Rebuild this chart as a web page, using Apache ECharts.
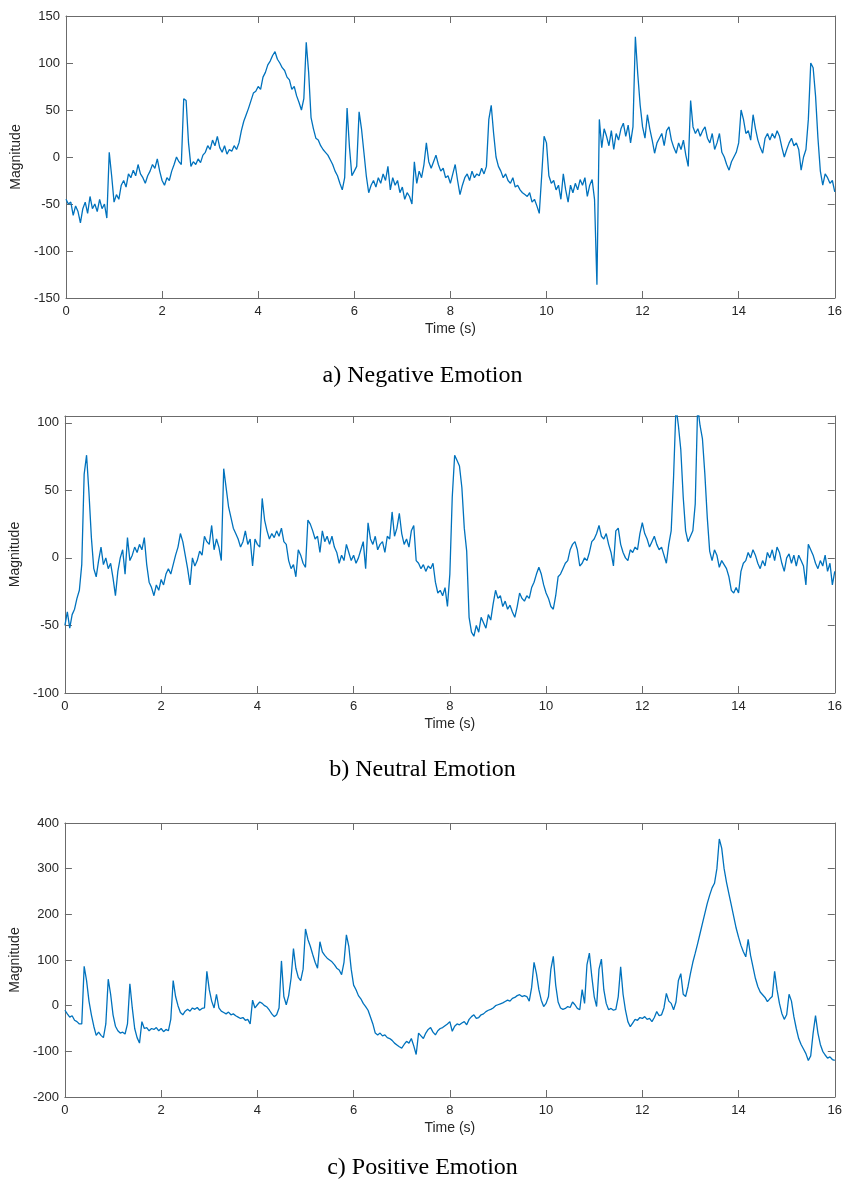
<!DOCTYPE html>
<html><head><meta charset="utf-8">
<script src="https://cdn.jsdelivr.net/npm/echarts@6/dist/echarts.min.js"></script>
<style>html,body{margin:0;padding:0;background:#fff}#c{width:845px;height:1189px}</style>
</head><body><div id="c"></div>
<script>
// Sampling step of the signals (seconds)
const STEP = 0.05;

// a) Negative emotion, t = 0 .. 16 s
const negative = [
-45,-50,-48,-62,-52,-58,-70,-55,-48,-60,-42,-55,-50,-58,-45,-55,-50,-65,5,-20,
-48,-40,-45,-30,-25,-32,-18,-22,-14,-20,-8,-18,-22,-28,-20,-15,-8,-12,-2,-15,
-25,-30,-22,-25,-15,-8,0,-5,-8,62,60,15,-10,-5,-8,-2,-6,2,5,12,
8,18,12,22,10,5,12,3,8,6,12,8,15,28,38,45,52,60,68,70,
75,72,85,90,98,102,108,112,104,100,95,92,85,82,72,75,65,58,50,62,
122,90,42,30,20,18,12,8,5,2,-3,-8,-15,-20,-28,-35,-22,52,10,-20,
-15,-10,48,30,5,-20,-38,-30,-25,-32,-22,-28,-18,-25,-10,-35,-22,-30,-25,-38,
-32,-45,-38,-42,-50,-5,-28,-15,-22,-8,15,-5,-12,-5,2,-8,-15,-12,-22,-20,
-28,-18,-8,-25,-40,-30,-22,-18,-25,-15,-22,-18,-20,-12,-18,-10,40,55,25,0,
-10,-15,-22,-18,-25,-28,-22,-32,-30,-35,-38,-40,-42,-38,-48,-45,-52,-60,-20,22,
15,-20,-28,-25,-35,-30,-45,-18,-35,-48,-30,-38,-28,-35,-24,-30,-22,-42,-30,-24,
-45,-136,40,10,30,22,12,28,8,25,18,30,36,22,34,15,32,128,88,55,
32,20,45,30,18,4,15,20,25,12,28,32,18,10,4,15,8,18,2,-10,
60,32,25,30,22,28,32,20,15,25,8,15,25,5,0,-8,-14,-5,0,5,
15,50,40,25,28,18,45,30,18,10,4,20,25,18,25,20,28,22,10,0,
8,15,20,12,15,8,-14,0,8,40,100,95,65,20,-15,-30,-18,-22,-28,-25,
-37
];

// b) Neutral emotion
const neutral = [
-50,-40,-52,-42,-38,-30,-24,-5,62,76,48,15,-8,-14,-2,8,-5,0,-8,-4,
-15,-28,-10,0,6,-12,15,-2,2,8,4,10,6,15,-5,-18,-22,-28,-20,-24,
-16,-20,-12,-8,-12,-5,2,8,18,12,2,-8,-20,0,-6,-2,5,2,16,12,
10,24,6,14,8,-2,66,52,38,30,22,18,14,8,12,20,10,14,-6,14,
10,8,44,28,20,14,18,15,20,16,22,12,10,-2,-8,-5,-14,6,2,-4,
-7,28,25,20,14,16,4,20,12,16,10,16,8,4,-4,2,-2,10,4,-2,
2,-4,0,6,12,-8,26,14,10,16,6,10,12,4,16,14,34,16,22,33,
18,10,14,8,20,24,-2,-4,-8,-5,-10,-6,-8,-4,-18,-26,-24,-28,-22,-36,
-12,45,76,72,68,52,22,5,-44,-55,-58,-50,-55,-44,-48,-52,-42,-46,-34,-24,
-30,-28,-36,-32,-38,-35,-40,-44,-36,-26,-30,-32,-28,-30,-22,-18,-12,-7,-12,-20,
-26,-30,-36,-38,-28,-14,-12,-8,-4,-2,6,10,12,6,-6,-4,0,-2,4,12,
14,18,24,16,14,18,10,4,-6,20,22,10,4,0,-2,6,4,8,6,18,
26,18,14,8,12,16,10,6,8,2,-4,10,20,60,112,98,80,45,20,12,
16,20,40,112,98,88,62,30,5,-2,6,2,-7,-2,-5,-8,-14,-24,-26,-22,
-26,-10,-4,-2,4,0,6,2,-4,-8,-2,-6,4,0,6,-2,8,4,-4,-10,
0,3,-4,2,-6,2,-2,-6,-20,10,6,2,-4,-8,-2,-6,2,-10,-4,-20,
-10
];

// c) Positive emotion
const positive = [
-10,-18,-25,-22,-32,-35,-40,-40,86,55,10,-20,-45,-65,-58,-65,-70,-40,58,25,
-20,-45,-55,-60,-58,-62,-40,48,-5,-50,-70,-82,-35,-50,-48,-55,-50,-52,-48,-55,
-50,-57,-52,-55,-30,55,20,0,-15,-20,-12,-8,-12,-5,-8,-4,-10,-6,-5,75,
35,10,-5,25,-5,-12,-15,-18,-14,-20,-18,-22,-25,-28,-26,-32,-30,-40,12,-5,
2,8,5,0,-3,-10,-18,-24,-20,-5,98,20,2,22,60,125,82,62,55,80,
168,145,130,112,95,82,140,118,110,104,100,96,90,82,78,68,95,155,130,80,
45,35,22,15,5,-2,-10,-25,-40,-60,-64,-60,-66,-64,-70,-72,-76,-82,-86,-90,
-93,-85,-78,-82,-72,-88,-107,-60,-66,-72,-60,-52,-48,-58,-64,-55,-50,-48,-44,-40,
-35,-56,-45,-40,-42,-38,-35,-42,-30,-24,-20,-28,-26,-20,-18,-13,-10,-8,-5,0,
2,4,6,9,12,10,16,18,22,24,20,22,20,10,40,95,70,35,12,-2,
5,20,80,108,45,8,-5,-8,-6,-2,-4,8,2,-6,-9,35,5,90,115,64,
20,-2,80,102,35,5,-9,-6,-10,-8,20,85,25,-10,-35,-46,-38,-30,-32,-26,
-28,-24,-30,-28,-35,-26,-13,-22,-20,-5,27,10,5,-9,8,55,70,25,20,42,
70,95,115,136,158,180,202,224,242,258,268,300,365,345,300,270,245,220,195,170,
150,132,118,107,145,110,85,60,42,30,24,18,9,15,20,75,35,5,-17,-30,
-20,25,10,-24,-50,-72,-85,-95,-105,-120,-110,-60,-22,-60,-85,-100,-108,-115,-112,-118,
-120
];

const captions = ['a) Negative Emotion', 'b) Neutral Emotion', 'c) Positive Emotion'];
const xName = 'Time (s)';
const yName = 'Magnitude';

const panels = [
  {data: negative, left: 66, top: 16,  width: 772, height: 282, ymin: -150, ymax: 150, yint: 50,  capY: 376},
  {data: neutral,  left: 63, top: 416, width: 772, height: 277, ymin: -100, ymax: 105, yint: 50,  capY: 770},
  {data: positive, left: 64, top: 823, width: 772, height: 274, ymin: -200, ymax: 400, yint: 100, capY: 1168}
];

const AXIS_COLOR = '#6b6b6b';
const LABEL_COLOR = '#262626';
const FONT = '"Liberation Sans", Arial, Helvetica, sans-serif';

const grid = [], xAxis = [], yAxis = [], series = [], graphic = [];
panels.forEach((p, i) => {
  grid.push({left: p.left, top: p.top, width: p.width, height: p.height, containLabel: false});
  const line = {show: true, onZero: false, lineStyle: {color: AXIS_COLOR, width: 1}};
  const tick = {show: true, inside: true, length: 7, lineStyle: {color: AXIS_COLOR, width: 1}};
  xAxis.push({
    type: 'value', gridIndex: i, min: 0, max: 16, interval: 2, position: 'bottom',
    axisLine: line, axisTick: tick, splitLine: {show: false},
    axisLabel: {color: LABEL_COLOR, fontSize: 13, fontFamily: FONT, margin: 7},
    name: xName, nameLocation: 'middle', nameGap: 24,
    nameTextStyle: {color: LABEL_COLOR, fontSize: 14, fontFamily: FONT}
  });
  xAxis.push({
    type: 'value', gridIndex: i, min: 0, max: 16, interval: 2, position: 'top',
    axisLine: line, axisTick: tick, splitLine: {show: false}, axisLabel: {show: false}
  });
  yAxis.push({
    type: 'value', gridIndex: i, min: p.ymin, max: p.ymax, interval: p.yint, position: 'left',
    axisLine: line, axisTick: tick, splitLine: {show: false},
    axisLabel: {color: LABEL_COLOR, fontSize: 13, fontFamily: FONT, margin: 6,
      showMaxLabel: (p.ymax - p.ymin) % p.yint === 0},
    name: yName, nameLocation: 'middle', nameGap: 35, nameRotate: 90,
    nameTextStyle: {color: LABEL_COLOR, fontSize: 14, fontFamily: FONT}
  });
  yAxis.push({
    type: 'value', gridIndex: i, min: p.ymin, max: p.ymax, interval: p.yint, position: 'right',
    axisLine: line, axisTick: tick, splitLine: {show: false}, axisLabel: {show: false}
  });
  series.push({
    type: 'line', xAxisIndex: 2 * i, yAxisIndex: 2 * i,
    data: p.data.map((v, k) => [+(k * STEP).toFixed(2), v]),
    showSymbol: false, symbol: 'none', clip: true,
    lineStyle: {color: '#0072BD', width: 1.3}, itemStyle: {color: '#0072BD'},
    animation: false
  });
  graphic.push({
    type: 'text', x: 422.5, y: p.capY,
    style: {text: captions[i], fontFamily: '"Liberation Serif", "Times New Roman", serif',
      fontSize: 24, fill: '#000', align: 'center', verticalAlign: 'middle'}
  });
});

const chart = echarts.init(document.getElementById('c'), null, {renderer: 'canvas'});
chart.setOption({animation: false, backgroundColor: '#fff', grid, xAxis, yAxis, series, graphic});
</script>
</body></html>
